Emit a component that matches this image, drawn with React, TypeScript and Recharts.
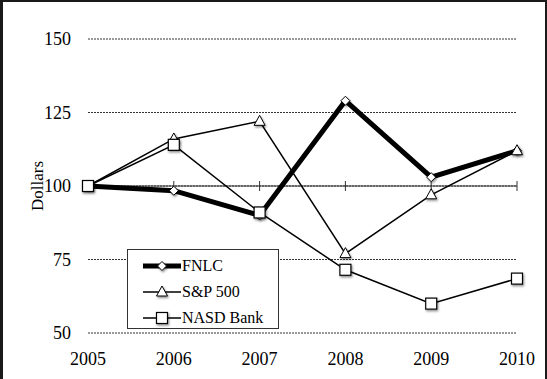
import React from "react";
import {
  LineChart,
  Line,
  XAxis,
  YAxis,
  CartesianGrid,
  ReferenceLine,
  ReferenceDot,
} from "recharts";

const years = ["2005", "2006", "2007", "2008", "2009", "2010"];
const fnlc = [100, 98.4, 90, 129, 103, 112];
const sp500 = [100, 116, 122, 77, 97, 112];
const nasdBank = [100, 114, 91, 71.5, 60, 68.5];
const yTicks = [50, 75, 100, 125, 150];

const data = years.map((year, i) => ({
  year,
  fnlc: fnlc[i],
  sp500: sp500[i],
  nasd: nasdBank[i],
}));

const FONT = "'Liberation Serif', 'Times New Roman', serif";

// marker shapes, centred on cx/cy
const Diamond = ({ cx, cy }: any) => {
  const r = 4.5;
  return (
    <path
      d={`M${cx},${cy - r}L${cx + r},${cy}L${cx},${cy + r}L${cx - r},${cy}Z`}
      fill="#fff"
      stroke="#000"
      strokeWidth={1}
      filter="url(#shadow)"
    />
  );
};

const Triangle = ({ cx, cy }: any) => {
  const w = 5.5;
  return (
    <path
      d={`M${cx},${cy - 6}L${cx + w},${cy + 4}L${cx - w},${cy + 4}Z`}
      fill="#fff"
      stroke="#000"
      strokeWidth={1}
      filter="url(#shadow)"
    />
  );
};

const Square = ({ cx, cy }: any) => {
  const s = 5.5;
  return (
    <rect
      x={cx - s}
      y={cy - s}
      width={s * 2}
      height={s * 2}
      fill="#fff"
      stroke="#000"
      strokeWidth={1.2}
      filter="url(#shadow)"
    />
  );
};

const legendItems = [
  { label: "FNLC", width: 5, Marker: Diamond },
  { label: "S&P 500", width: 1.5, Marker: Triangle },
  { label: "NASD Bank", width: 1.5, Marker: Square },
];

// legend drawn outside the chart so it doesn't eat plot space
const LegendBox = () => (
  <div
    style={{
      position: "absolute",
      left: 127,
      top: 249,
      width: 152,
      height: 80,
      border: "1px solid #333",
      background: "#fff",
      boxSizing: "border-box",
      paddingTop: 3,
    }}
  >
    {legendItems.map(({ label, width, Marker }) => (
      <div
        key={label}
        style={{ display: "flex", alignItems: "center", height: 26, fontFamily: FONT, fontSize: 16 }}
      >
        <svg width={54} height={20} style={{ flex: "none" }}>
          <line x1={15} x2={53} y1={10} y2={10} stroke="#000" strokeWidth={width} />
          <Marker cx={34} cy={10} />
        </svg>
        <span style={{ color: "#000" }}>{label}</span>
      </div>
    ))}
  </div>
);

const TickMark = ({ cx, cy }: any) => (
  <line x1={cx} x2={cx} y1={cy - 5} y2={cy + 5} stroke="#333" strokeWidth={1} />
);

export default function App() {
  return (
    <div
      style={{
        position: "absolute",
        left: 0,
        top: 0,
        width: 547,
        height: 379,
        background: "#fff",
        overflow: "hidden",
      }}
    >
      <LineChart
        width={547}
        height={379}
        data={data}
        margin={{ top: 39, right: 30, bottom: 6, left: 5 }}
      >
        <defs>
          <filter id="shadow" x="-50%" y="-50%" width="200%" height="200%">
            <feDropShadow dx={1} dy={1.5} stdDeviation={1} floodColor="#000" floodOpacity={0.45} />
          </filter>
        </defs>
        <CartesianGrid vertical={false} stroke="#333" strokeDasharray="2 1" />
        <XAxis
          dataKey="year"
          axisLine={false}
          tickLine={false}
          tickSize={0}
          tickMargin={19}
          height={40}
          interval={0}
          tick={{ fill: "#000", fontSize: 18, fontFamily: FONT }}
        />
        <YAxis
          domain={[50, 150]}
          ticks={yTicks}
          axisLine={false}
          tickLine={false}
          tickSize={0}
          tickMargin={17}
          width={83}
          tick={{ fill: "#000", fontSize: 18, fontFamily: FONT }}
          label={{
            value: "Dollars",
            angle: -90,
            position: "insideLeft",
            offset: 32,
            style: { textAnchor: "middle", fill: "#000", fontSize: 17, fontFamily: FONT },
          }}
        />
        <ReferenceLine y={100} stroke="#333" strokeWidth={1} />
        {years.map((y) => (
          <ReferenceDot key={y} x={y} y={100} shape={TickMark} />
        ))}
        <Line
          dataKey="fnlc"
          name="FNLC"
          stroke="#000"
          strokeWidth={5}
          dot={Diamond}
          activeDot={false}
          isAnimationActive={false}
        />
        <Line
          dataKey="sp500"
          name="S&P 500"
          stroke="#000"
          strokeWidth={1.5}
          dot={Triangle}
          activeDot={false}
          isAnimationActive={false}
        />
        <Line
          dataKey="nasd"
          name="NASD Bank"
          stroke="#000"
          strokeWidth={1.5}
          dot={Square}
          activeDot={false}
          isAnimationActive={false}
        />
      </LineChart>
      <LegendBox />
      {/* dark frame around the picture */}
      <div
        style={{
          position: "absolute",
          inset: 0,
          borderTop: "2px solid #1a1a1a",
          borderLeft: "3px solid #1a1a1a",
          borderRight: "2px solid #1a1a1a",
          pointerEvents: "none",
        }}
      />
    </div>
  );
}
